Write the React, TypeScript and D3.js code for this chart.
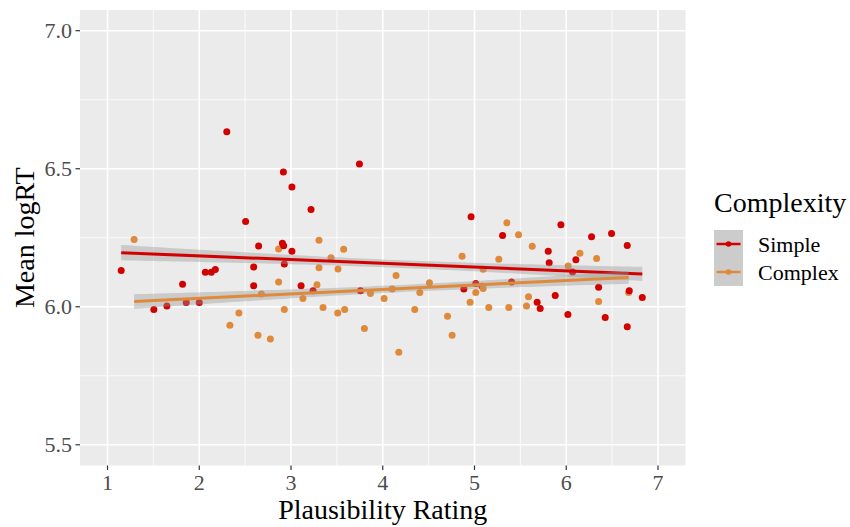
import React, { useEffect, useRef } from 'react';
import * as d3 from 'd3';

// Simple sentences: plausibility rating vs mean logRT
const simpleX = [1.149, 1.505, 1.647, 1.818, 1.858, 2.0, 2.066, 2.131, 2.175, 2.3, 2.505, 2.593, 2.593, 2.647, 2.906, 2.92, 2.917, 2.927, 3.01, 3.01, 3.11, 3.218, 3.24, 3.746, 3.757, 4.884, 4.963, 5.014, 5.083, 5.306, 5.404, 5.683, 5.716, 5.804, 5.814, 5.88, 5.942, 6.018, 6.069, 6.105, 6.276, 6.353, 6.425, 6.494, 6.665, 6.687, 6.665, 6.829];
const simpleY = [6.131, 5.99, 6.003, 6.082, 6.015, 6.015, 6.125, 6.125, 6.135, 6.634, 6.309, 6.144, 6.076, 6.22, 6.23, 6.221, 6.488, 6.155, 6.434, 6.201, 6.076, 6.352, 6.058, 6.517, 6.058, 6.064, 6.326, 6.084, 6.074, 6.258, 6.09, 6.016, 5.994, 6.201, 6.159, 6.041, 6.297, 5.972, 6.126, 6.17, 6.254, 6.071, 5.961, 6.265, 6.222, 6.058, 5.928, 6.034];

// Complex sentences
const complexX = [1.29, 2.334, 2.432, 2.64, 2.677, 2.775, 2.865, 2.865, 2.927, 3.13, 3.283, 3.305, 3.305, 3.349, 3.436, 3.509, 3.512, 3.574, 3.585, 3.8, 3.866, 4.015, 4.102, 4.145, 4.175, 4.349, 4.404, 4.509, 4.706, 4.756, 4.865, 4.952, 5.014, 5.094, 5.094, 5.156, 5.265, 5.353, 5.374, 5.48, 5.567, 5.589, 5.629, 6.021, 6.149, 6.331, 6.353, 6.68];
const complexY = [6.244, 5.933, 5.977, 5.897, 6.046, 5.883, 6.209, 6.09, 5.99, 6.03, 6.08, 6.241, 6.141, 5.997, 6.178, 5.977, 6.137, 6.208, 5.99, 5.921, 6.048, 6.03, 6.064, 6.113, 5.835, 5.99, 6.052, 6.087, 5.966, 5.897, 6.183, 6.016, 6.052, 6.136, 6.066, 5.997, 6.172, 6.304, 5.997, 6.261, 6.003, 6.036, 6.219, 6.148, 6.194, 6.175, 6.019, 6.052];

// smooth (lm) fits: intercept, slope, se half-width at centre and growth
const fitIntercept = [6.2116, 5.9981];
const fitSlope = [-0.01356, 0.01619];
const fitHalfCentre = [0.014, 0.013];
const fitHalfGrowth = [0.008, 0.0078];

const groups = ['Simple', 'Complex'];
const colors = ['#D30000', '#DF8A3A'];
const xTicks = [1, 2, 3, 4, 5, 6, 7];
const yTicks = [5.5, 6.0, 6.5, 7.0];
const xMinor = [1.5, 2.5, 3.5, 4.5, 5.5, 6.5];
const yMinor = [5.75, 6.25, 6.75];

const FONT = "'Liberation Serif', 'Times New Roman', serif";

const App = () => {
  const svgRef = useRef<SVGSVGElement>(null);

  useEffect(() => {
    const width = 850;
    const height = 527;
    const panel = { left: 80, right: 685.5, top: 10, bottom: 465.5 };

    svgRef.current!.innerHTML = '';
    const svg = d3.select(svgRef.current)
      .attr('width', width)
      .attr('height', height);

    svg.append('rect').attr('width', width).attr('height', height).attr('fill', '#fff');

    const x = d3.scaleLinear().domain([0.7, 7.3]).range([panel.left, panel.right]);
    const y = d3.scaleLinear().domain([5.425, 7.075]).range([panel.bottom, panel.top]);

    // panel
    svg.append('rect')
      .attr('x', panel.left).attr('y', panel.top)
      .attr('width', panel.right - panel.left).attr('height', panel.bottom - panel.top)
      .attr('fill', '#EBEBEB');

    const grid = svg.append('g').attr('stroke', '#fff');
    grid.selectAll('.xm').data(xMinor).enter().append('line')
      .attr('x1', d => x(d)).attr('x2', d => x(d))
      .attr('y1', panel.top).attr('y2', panel.bottom).attr('stroke-width', 0.8);
    grid.selectAll('.ym').data(yMinor).enter().append('line')
      .attr('y1', d => y(d)).attr('y2', d => y(d))
      .attr('x1', panel.left).attr('x2', panel.right).attr('stroke-width', 0.8);
    grid.selectAll('.xM').data(xTicks).enter().append('line')
      .attr('x1', d => x(d)).attr('x2', d => x(d))
      .attr('y1', panel.top).attr('y2', panel.bottom).attr('stroke-width', 1.6);
    grid.selectAll('.yM').data(yTicks).enter().append('line')
      .attr('y1', d => y(d)).attr('y2', d => y(d))
      .attr('x1', panel.left).attr('x2', panel.right).attr('stroke-width', 1.6);

    // points, interleaved in the order ggplot would draw them
    const pts: { x: number; y: number; g: number }[] = [];
    simpleX.forEach((v, i) => pts.push({ x: v, y: simpleY[i], g: 0 }));
    complexX.forEach((v, i) => pts.push({ x: v, y: complexY[i], g: 1 }));
    pts.sort((a, b) => a.x - b.x);
    svg.append('g').selectAll('circle').data(pts).enter().append('circle')
      .attr('cx', d => x(d.x)).attr('cy', d => y(d.y)).attr('r', 3.5)
      .attr('fill', d => colors[d.g]);

    // smooths
    const xs = [simpleX, complexX];
    groups.forEach((_, gi) => {
      const lo = d3.min(xs[gi])!;
      const hi = d3.max(xs[gi])!;
      const xm = d3.mean(xs[gi])!;
      const grid80 = d3.range(0, 81).map(k => lo + (hi - lo) * k / 80);
      const fit = (v: number) => fitIntercept[gi] + fitSlope[gi] * v;
      const half = (v: number) => Math.sqrt(fitHalfCentre[gi] ** 2 + (fitHalfGrowth[gi] * (v - xm)) ** 2);
      const area = d3.area<number>()
        .x(d => x(d)).y0(d => y(fit(d) - half(d))).y1(d => y(fit(d) + half(d)));
      svg.append('path').datum(grid80).attr('d', area)
        .attr('fill', '#999999').attr('fill-opacity', 0.4);
      const line = d3.line<number>().x(d => x(d)).y(d => y(fit(d)));
      svg.append('path').datum([lo, hi]).attr('d', line)
        .attr('fill', 'none').attr('stroke', colors[gi]).attr('stroke-width', 3);
    });

    // axes
    const ax = svg.append('g').attr('font-family', FONT);
    ax.selectAll('.xt').data(xTicks).enter().append('line')
      .attr('x1', d => x(d)).attr('x2', d => x(d))
      .attr('y1', panel.bottom).attr('y2', panel.bottom + 4.5)
      .attr('stroke', '#333').attr('stroke-width', 1.2);
    ax.selectAll('.xl').data(xTicks).enter().append('text')
      .attr('x', d => x(d)).attr('y', 490).attr('text-anchor', 'middle')
      .attr('font-size', 22).attr('fill', '#4D4D4D').text(d => d3.format('d')(d));
    ax.selectAll('.yt').data(yTicks).enter().append('line')
      .attr('y1', d => y(d)).attr('y2', d => y(d))
      .attr('x1', panel.left - 4.5).attr('x2', panel.left)
      .attr('stroke', '#333').attr('stroke-width', 1.2);
    ax.selectAll('.yl').data(yTicks).enter().append('text')
      .attr('x', panel.left - 8).attr('y', d => y(d)).attr('dy', '0.35em')
      .attr('text-anchor', 'end')
      .attr('font-size', 22).attr('fill', '#4D4D4D').text(d => d3.format('.1f')(d));

    ax.append('text')
      .attr('x', (panel.left + panel.right) / 2).attr('y', 519)
      .attr('text-anchor', 'middle').attr('font-size', 28).attr('fill', '#000')
      .text('Plausibility Rating');
    ax.append('text')
      .attr('transform', `translate(34,${(panel.top + panel.bottom) / 2}) rotate(-90)`)
      .attr('text-anchor', 'middle').attr('font-size', 28).attr('fill', '#000')
      .text('Mean logRT');

    // legend
    const lg = svg.append('g').attr('font-family', FONT);
    lg.append('text').attr('x', 714).attr('y', 212)
      .attr('font-size', 28).attr('fill', '#000').text('Complexity');
    groups.forEach((g, i) => {
      const top = 230 + i * 28;
      lg.append('rect').attr('x', 714).attr('y', top).attr('width', 29).attr('height', 28)
        .attr('fill', '#CCCCCC');
      lg.append('line').attr('x1', 716.5).attr('x2', 740.5)
        .attr('y1', top + 14).attr('y2', top + 14)
        .attr('stroke', colors[i]).attr('stroke-width', 2.5);
      lg.append('circle').attr('cx', 728.5).attr('cy', top + 14).attr('r', 2.8).attr('fill', colors[i]);
      lg.append('text').attr('x', 758).attr('y', top + 14).attr('dy', '0.35em')
        .attr('font-size', 22).attr('fill', '#000').text(g);
    });
  }, []);

  return (
    <svg ref={svgRef} style={{ position: 'absolute', left: 0, top: 0, display: 'block' }}></svg>
  );
};

export default App;
